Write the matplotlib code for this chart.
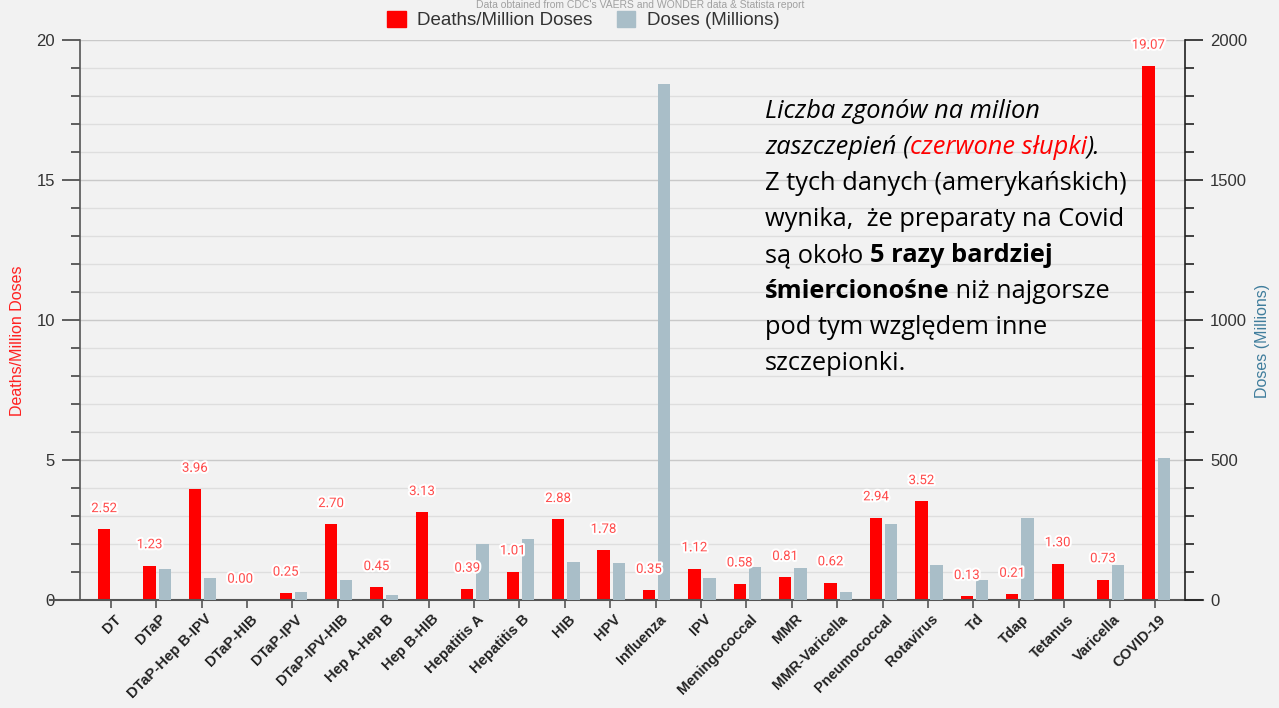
import matplotlib
matplotlib.use("Agg")
import matplotlib.pyplot as plt
from matplotlib.ticker import MultipleLocator
from matplotlib.transforms import ScaledTranslation
import matplotlib.patheffects as pe
from matplotlib.patches import Patch

categories = ['DT', 'DTaP', 'DTaP-Hep B-IPV', 'DTaP-HIB', 'DTaP-IPV', 'DTaP-IPV-HIB',
              'Hep A-Hep B', 'Hep B-HIB', 'Hepatitis A', 'Hepatitis B', 'HIB', 'HPV',
              'Influenza', 'IPV', 'Meningococcal', 'MMR', 'MMR-Varicella', 'Pneumococcal',
              'Rotavirus', 'Td', 'Tdap', 'Tetanus', 'Varicella', 'COVID-19']
deaths_per_million = [2.52, 1.23, 3.96, 0.00, 0.25, 2.70, 0.45, 3.13, 0.39, 1.01, 2.88, 1.78,
                      0.35, 1.12, 0.58, 0.81, 0.62, 2.94, 3.52, 0.13, 0.21, 1.30, 0.73, 19.07]
doses_millions = [0, 110, 77, 0, 29, 71, 18, 0, 200, 217, 136, 131,
                  1843, 77, 119, 114, 29, 270, 125, 71, 292, 0, 125, 508]

W, H = 1279, 708
BG = '#f2f2f2'
RED = '#ff0000'
GRAY = '#a9bec8'

fig = plt.figure(figsize=(W / 100, H / 100), dpi=100, facecolor=BG)
ax = fig.add_axes([80 / W, 1 - 600 / H, (1185 - 80) / W, (600 - 40) / H])
ax.set_facecolor(BG)
ax2 = ax.twinx()
ax2.patch.set_visible(False)

x = list(range(len(categories)))
bw = 0.27
ax.bar([i - 0.145 for i in x], deaths_per_million, width=bw, color=RED, zorder=3)
ax2.bar([i + 0.19 for i in x], doses_millions, width=bw, color=GRAY, zorder=2)

ax.set_xlim(-0.676, 23.66)
ax.set_ylim(0, 20)
ax2.set_ylim(0, 2000)

# grid
for v in range(1, 21):
    c = '#c9c9c9' if v % 5 == 0 else '#dedede'
    ax.axhline(v, color=c, lw=1.0, zorder=0)

# value labels
for i, v in enumerate(deaths_per_million):
    t = ax2.annotate(f'{v:.2f}', xy=(i - 0.145, v), xycoords=ax.transData,
                     xytext=(0, 15), textcoords='offset points', ha='center', va='center',
                     fontsize=9.5, color='#ff4a4a', family='Roboto', zorder=10)
    t.set_path_effects([pe.withStroke(linewidth=3, foreground='white')])

# ticks and spines
ax.yaxis.set_major_locator(MultipleLocator(5))
ax.yaxis.set_minor_locator(MultipleLocator(1))
ax2.yaxis.set_major_locator(MultipleLocator(500))
ax2.yaxis.set_minor_locator(MultipleLocator(100))
ax.tick_params(axis='y', which='major', length=13, width=1.2, color='#444', labelsize=12,
               labelcolor='#333', pad=5)
ax.tick_params(axis='y', which='minor', length=6.5, width=1.2, color='#444')
ax2.tick_params(axis='y', which='major', length=13, width=1.2, color='#222', labelsize=12,
                labelcolor='#333', pad=5)
ax2.tick_params(axis='y', which='minor', length=6.5, width=1.2, color='#222')
for lab in ax.get_yticklabels() + ax2.get_yticklabels():
    lab.set_family('Liberation Sans')

ax.set_xticks(x)
ax.set_xticklabels(categories, rotation=45, ha='right', va='center', rotation_mode='anchor',
                   fontsize=10.5, fontweight='bold', color='#222', family='Liberation Sans')
ax.tick_params(axis='x', length=6, width=1.2, color='#555', pad=4)
shift = ScaledTranslation(8 / 100, -3 / 100, fig.dpi_scale_trans)
for lab in ax.get_xticklabels():
    lab.set_transform(lab.get_transform() + shift)

for a in (ax, ax2):
    a.spines['top'].set_visible(False)
    a.spines['bottom'].set_visible(False)
ax.spines['left'].set_color('#555')
ax.spines['left'].set_linewidth(1.2)
ax.spines['right'].set_visible(False)
ax2.spines['left'].set_visible(False)
ax2.spines['right'].set_color('#222')
ax2.spines['right'].set_linewidth(1.2)
ax.plot([(50 - 80) / 1105, (1203 - 80) / 1105], [0, 0], transform=ax.transAxes,
        color='#555', lw=1.5, clip_on=False, zorder=5)

fig.text(18 / W, 1 - 341 / H, 'Deaths/Million Doses', rotation=90, ha='center', va='center',
         color='#ff2020', fontsize=11.5, family='Liberation Sans')
fig.text(1262 / W, 1 - 341 / H, 'Doses (Millions)', rotation=90, ha='center', va='center',
         color='#3f7d9c', fontsize=11.5, family='Liberation Sans')

# legend
fig.legend(handles=[Patch(color=RED, label='Deaths/Million Doses'),
                    Patch(color=GRAY, label='Doses (Millions)')],
           loc='center', bbox_to_anchor=(583 / W, 1 - 20 / H), ncol=2, frameon=False,
           handlelength=1.0, handleheight=1.0, columnspacing=1.3, handletextpad=0.6,
           prop={'family': 'Liberation Sans', 'size': 13.5}, labelcolor='#333')

# subtitle at top (small so it stays inside the figure)
fig.text(640 / W, 1 - 0.5 / H, "Data obtained from CDC's VAERS and WONDER data & Statista report",
         ha='center', va='top', color='#a0a0a0', fontsize=7.5, family='Liberation Sans')

# annotation text
fig.canvas.draw()
renderer = fig.canvas.get_renderer()
FAM = 'Open Sans'

def width_of(s, **kw):
    t = fig.text(0, 0, s, **kw)
    w = t.get_window_extent(renderer).width
    t.remove()
    return w

base = 16
w0 = width_of('Z tych danych (amerykańskich)', family=FAM, fontsize=base)
fs = base * 363 / w0

def rich_line(x_px, y_px, segments):
    xx = x_px
    for s, kw in segments:
        st = dict(family=FAM, fontsize=fs, color='black')
        st.update(kw)
        fig.text(xx / W, 1 - y_px / H, s, ha='left', va='baseline', **st)
        w_with = width_of(s + 'x', **st)
        w_x = width_of('x', **st)
        xx += w_with - w_x

it = {'style': 'italic'}
bd = {'weight': 'bold'}
lines = [
    [('Liczba zgonów na milion', it)],
    [('zaszczepień (', it), ('czerwone słupki', dict(style='italic', color='#ff0000')), (').', it)],
    [('Z tych danych (amerykańskich)', {})],
    [('wynika,  że preparaty na Covid', {})],
    [('są około ', {}), ('5 razy bardziej', bd)],
    [('śmiercionośne', bd), (' niż najgorsze', {})],
    [('pod tym względem inne', {})],
    [('szczepionki.', {})],
]
for k, segs in enumerate(lines):
    rich_line(765, 118 + 36 * k, segs)

fig.savefig('out.png', dpi=100, facecolor=BG)
